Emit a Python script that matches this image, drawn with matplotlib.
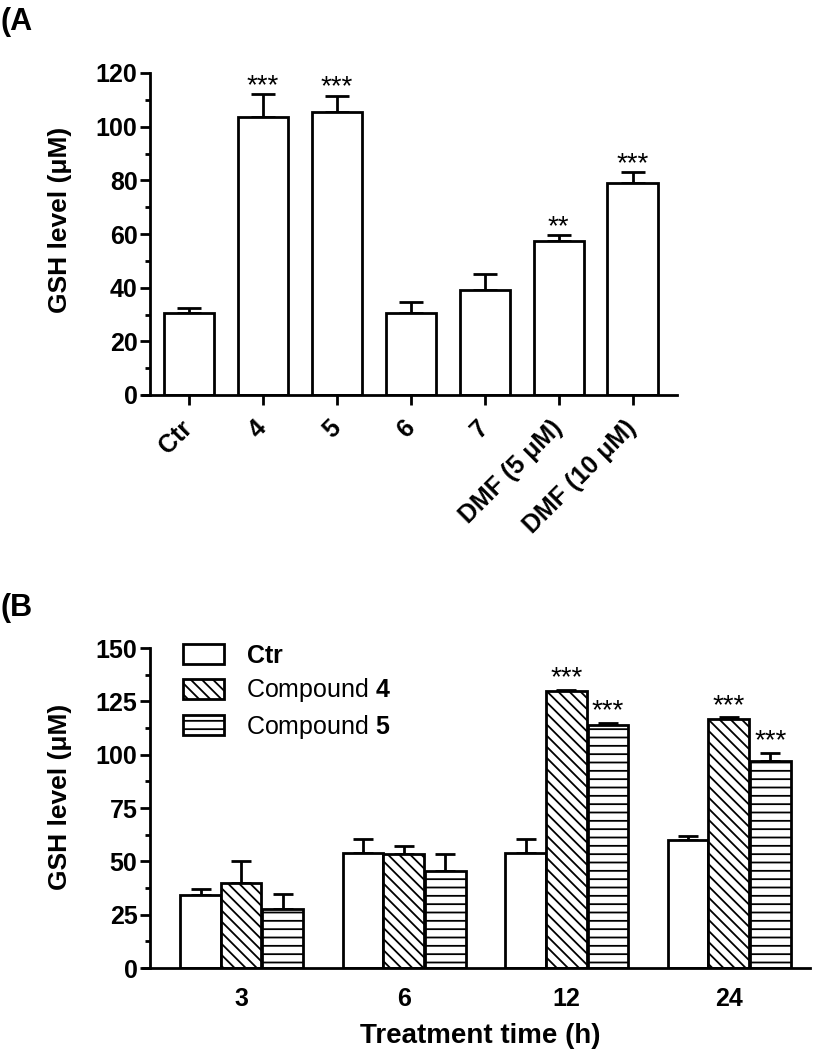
import matplotlib
matplotlib.use("Agg")
import matplotlib.pyplot as plt
import numpy as np
from matplotlib.ticker import MultipleLocator

plt.rcParams['font.family'] = ['Liberation Sans', 'DejaVu Sans']
plt.rcParams['mathtext.fontset'] = 'custom'
plt.rcParams['mathtext.bf'] = 'Liberation Sans:bold'
plt.rcParams['mathtext.rm'] = 'Liberation Sans'
plt.rcParams['hatch.linewidth'] = 1.3

# ---------- data ----------
a_labels = ["Ctr", "4", "5", "6", "7", "DMF (5 \u03bcM)", "DMF (10 \u03bcM)"]
a_means = [30.5, 103.5, 105.5, 30.5, 39.0, 57.5, 79.0]
a_errs = [2.0, 8.5, 6.0, 4.0, 6.0, 2.0, 4.0]
a_stars = ["", "***", "***", "", "", "**", "***"]

b_times = ["3", "6", "12", "24"]
b_series = ["Ctr", "Compound 4", "Compound 5"]
b_ctr = [34.0, 54.0, 54.0, 60.0]
b_ctr_err = [3.0, 6.5, 6.5, 2.0]
b_c4 = [40.0, 53.5, 130.0, 116.5]
b_c4_err = [10.0, 3.5, 0.5, 1.0]
b_c5 = [27.5, 45.5, 114.0, 97.0]
b_c5_err = [7.0, 8.0, 1.0, 4.0]
b_c4_stars = ["", "", "***", "***"]
b_c5_stars = ["", "", "***", "***"]

fig = plt.figure(figsize=(8.13, 10.53), dpi=100)
LW = 2.0
TICK_FS = 18
STAR_FS = 20

def style_axes(ax):
    for s in ['top', 'right']:
        ax.spines[s].set_visible(False)
    for s in ['left', 'bottom']:
        ax.spines[s].set_linewidth(LW)
    ax.tick_params(axis='y', which='major', direction='out', length=7, width=LW, labelsize=TICK_FS, pad=2)
    ax.tick_params(axis='y', which='minor', direction='out', length=3.5, width=LW)
    ax.tick_params(axis='x', which='major', direction='out', length=7, width=LW, labelsize=TICK_FS)
    for t in ax.get_yticklabels():
        t.set_fontweight('bold')

def stars(ax, x, top, s):
    ax.annotate(s, xy=(x, top), xytext=(0, 1), textcoords='offset points',
                ha='center', va='baseline', fontsize=STAR_FS)

# ---------- Panel A ----------
axA = fig.add_axes([150/813, 1-395/1053, (677-150)/813, (395-73)/1053])
xa = np.arange(len(a_means))
axA.bar(xa, a_means, width=0.68, color='white', edgecolor='black', linewidth=LW, zorder=2)
axA.errorbar(xa, a_means, yerr=[np.zeros(len(a_errs)), a_errs], fmt='none', ecolor='black',
             elinewidth=LW, capsize=8.5, capthick=LW, zorder=1)
for x, m, e, s in zip(xa, a_means, a_errs, a_stars):
    if s:
        stars(axA, x, m + e, s)
axA.set_ylim(0, 120)
axA.set_xlim(-0.527, 6.6)
axA.yaxis.set_major_locator(MultipleLocator(20))
axA.yaxis.set_minor_locator(MultipleLocator(10))
axA.set_xticks(xa)
axA.set_xticklabels(a_labels, rotation=45, ha='right', va='center', rotation_mode='anchor',
                    fontweight='bold', fontsize=TICK_FS)
style_axes(axA)
axA.tick_params(axis='x', which='major', pad=14)
axA.set_ylabel("GSH level (\u03bcM)", fontsize=19, fontweight='bold')
axA.yaxis.set_label_coords((72 - 150) / 527, (395 - 220) / 322)
axA.spines['bottom'].set_bounds(-0.62, 6.6)
axA.spines['bottom'].set_clip_on(False)

# ---------- Panel B ----------
axB = fig.add_axes([150/813, 1-968/1053, (810-150)/813, (968-648)/1053])
xb = np.arange(len(b_times))
w = 0.25
off = [-w, 0.0, w + 0.006]
hatches = [None, '\\\\\\', '--']
vals = [b_ctr, b_c4, b_c5]
errs = [b_ctr_err, b_c4_err, b_c5_err]
for i in range(3):
    axB.bar(xb + off[i], vals[i], width=w, color='white', edgecolor='black', linewidth=LW,
            hatch=hatches[i], label=b_series[i], zorder=2)
    axB.errorbar(xb + off[i], vals[i], yerr=[np.zeros(4), errs[i]], fmt='none', ecolor='black',
                 elinewidth=LW, capsize=7.5, capthick=LW, zorder=1)
for x, m, e, s in zip(xb + off[1], b_c4, b_c4_err, b_c4_stars):
    if s:
        stars(axB, x, m + e + 1.5, s)
for x, m, e, s in zip(xb + off[2], b_c5, b_c5_err, b_c5_stars):
    if s:
        stars(axB, x, m + e + 1.5, s)
axB.set_ylim(0, 150)
axB.set_xlim(-0.561, 3.5)
axB.yaxis.set_major_locator(MultipleLocator(25))
axB.yaxis.set_minor_locator(MultipleLocator(12.5))
axB.set_xticks(xb)
axB.set_xticklabels(b_times, fontsize=TICK_FS, fontweight='bold')
style_axes(axB)
axB.tick_params(axis='x', which='major', length=0, pad=14)
axB.set_ylabel("GSH level (\u03bcM)", fontsize=19, fontweight='bold')
axB.yaxis.set_label_coords((72 - 150) / 660, (968 - 797) / 320)
axB.set_xlabel("Treatment time (h)", fontsize=20, fontweight='bold', labelpad=8)
axB.spines['bottom'].set_bounds(-0.605, 3.5)
axB.spines['bottom'].set_clip_on(False)

handles, _ = axB.get_legend_handles_labels()
leg = axB.legend(handles, [r"$\mathbf{Ctr}$", r"Compound $\mathbf{4}$", r"Compound $\mathbf{5}$"],
                 loc='upper left', bbox_to_anchor=(0.035, 1.045), frameon=False, fontsize=18,
                 handlelength=1.65, handleheight=0.85, handletextpad=0.85, labelspacing=0.35,
                 borderaxespad=0.0)

fig.text(0.0, 1-22/1053, "(A", fontsize=22, fontweight='bold', va='center', ha='left')
fig.text(0.0, 1-608/1053, "(B", fontsize=22, fontweight='bold', va='center', ha='left')

fig.savefig("out.png", dpi=100)
